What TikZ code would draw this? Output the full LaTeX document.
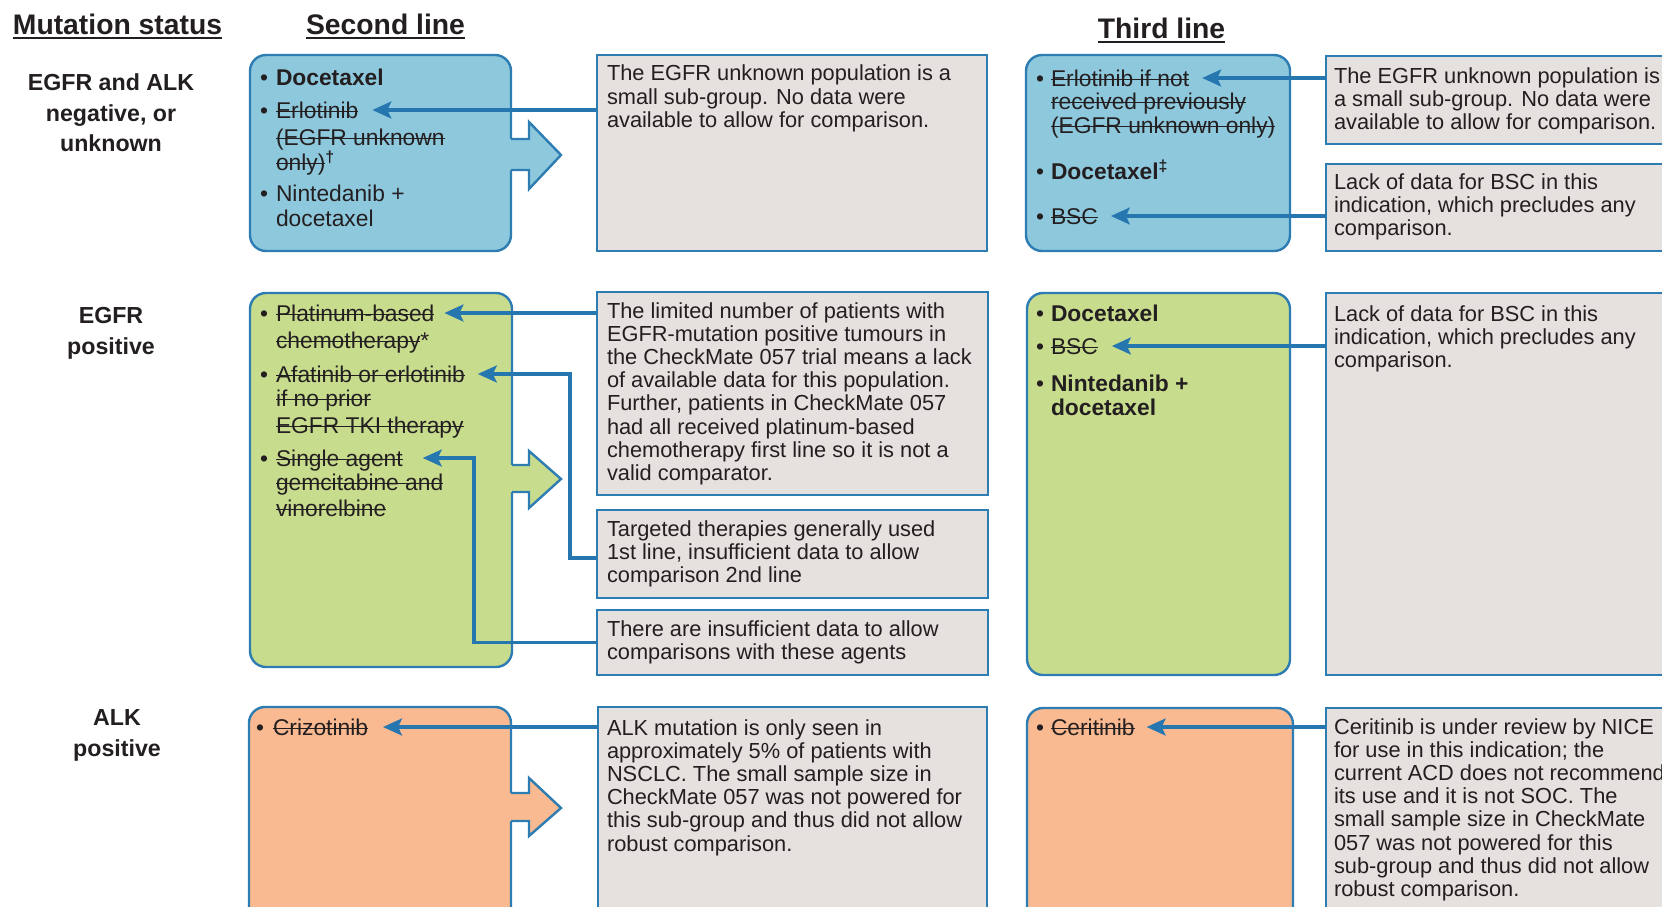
\documentclass[tikz,border=0pt]{standalone}
\usepackage{fontspec}
\setmainfont{Liberation Sans}
\usetikzlibrary{arrows.meta}

\definecolor{txt}{RGB}{35,31,32}
\definecolor{bluefill}{RGB}{142,200,221}
\definecolor{greenfill}{RGB}{200,220,142}
\definecolor{orangefill}{RGB}{249,185,145}
\definecolor{greyfill}{RGB}{228,225,222}
\definecolor{edge}{RGB}{45,125,178}
\definecolor{connc}{RGB}{38,118,176}

\newsavebox\strikebox
\newcommand\strk[1]{\sbox\strikebox{#1}\rlap{\usebox\strikebox}\rule[\dimexpr0.55ex-0.8pt\relax]{\wd\strikebox}{1.6pt}}

\newcommand\glines[4]{%
  \foreach \t [count=\i] in {#4} {\node[gtext] (#1-\i) at (#2,{#3+23.2*(\i-1)}) {\t};}}

\begin{document}
\begin{tikzpicture}[x=1pt,y=-1pt,
  every node/.style={inner sep=0pt, outer sep=0pt, text=txt},
  cbox/.style={draw=edge, line width=2.4pt, rounded corners=16pt, anchor=north west},
  gbox/.style={draw=edge, line width=2.4pt, fill=greyfill, anchor=north west},
  gtext/.style={anchor=base west, font=\fontsize{21.8}{23}\selectfont},
  itext/.style={anchor=base west, font=\fontsize{22.8}{25}\selectfont},
  btext/.style={anchor=base west, font=\fontsize{22.8}{25}\selectfont\bfseries},
  mlabel/.style={anchor=base, font=\fontsize{23.2}{30}\selectfont\bfseries},
  head/.style={anchor=base, font=\fontsize{28.3}{34}\selectfont\bfseries},
  uline/.style={draw=txt, line width=2.2pt},
  conn/.style={draw=connc, line width=3.2pt, -{Stealth[length=19pt,width=17pt,inset=4pt]}},
  barrow/.style={draw=edge, line width=2.4pt, line join=miter},
]
\useasboundingbox (0,0) rectangle (1662,907);
\fill[white] (0,0) rectangle (1662,907);
\clip (0,0) rectangle (1662,907);

% ---------- headings ----------
\node[head] (h1) at (117.5,35) {Mutation status};
\node[head] (h2) at (385.5,35) {Second line};
\node[head] (h3) at (1161.5,39) {Third line};
\draw[uline] ([yshift=-3pt]h1.south west) -- ([yshift=-3pt]h1.south east);
\draw[uline] ([yshift=-3pt]h2.south west) -- ([yshift=-3pt]h2.south east);
\draw[uline] ([yshift=-3pt]h3.south west) -- ([yshift=-3pt]h3.south east);

% ---------- mutation labels ----------
\node[mlabel] (m1a) at (111,90) {EGFR and ALK};
\node[mlabel] (m1b) at (111,121) {negative, or};
\node[mlabel] (m1c) at (111,151) {unknown};
\node[mlabel] (m2a) at (111,323) {EGFR};
\node[mlabel] (m2b) at (111,354) {positive};
\node[mlabel] (m3a) at (117,725) {ALK};
\node[mlabel] (m3b) at (117,756) {positive};

% ---------- boxes ----------
\node[cbox, fill=bluefill, minimum width=261pt, minimum height=196pt] (b2a) at (250,55) {};
\node[gbox, minimum width=390pt, minimum height=196pt] (g2a) at (597,55) {};
\node[cbox, fill=bluefill, minimum width=264pt, minimum height=196pt] (b3a) at (1026,55) {};
\node[gbox, minimum width=374pt, minimum height=88pt] (g3a1) at (1326,56) {};
\node[gbox, minimum width=374pt, minimum height=87pt] (g3a2) at (1326,164) {};

\node[cbox, fill=greenfill, minimum width=262pt, minimum height=374pt] (b2b) at (250,293) {};
\node[gbox, minimum width=391pt, minimum height=203pt] (g2b1) at (597,292) {};
\node[gbox, minimum width=391pt, minimum height=88pt] (g2b2) at (597,510) {};
\node[gbox, minimum width=391pt, minimum height=65pt] (g2b3) at (597,610) {};
\node[cbox, fill=greenfill, minimum width=263pt, minimum height=382pt] (b3b) at (1027,293) {};
\node[gbox, minimum width=374pt, minimum height=382pt] (g3b) at (1326,293) {};

\node[cbox, fill=orangefill, minimum width=262pt, minimum height=240pt] (b2c) at (249,707) {};
\node[gbox, minimum width=389pt, minimum height=240pt] (g2c) at (598,707) {};
\node[cbox, fill=orangefill, minimum width=266pt, minimum height=240pt] (b3c) at (1027,708) {};
\node[gbox, minimum width=374pt, minimum height=240pt] (g3c) at (1326,708) {};

% ---------- block arrows ----------
\fill[bluefill] (508,139) -- (529,139) -- (529,122) -- (561,155) -- (529,189) -- (529,170) -- (508,170) -- cycle;
\draw[barrow] (511,139) -- (529,139) -- (529,122) -- (561,155) -- (529,189) -- (529,170) -- (511,170);
\fill[greenfill] (509,465) -- (529,465) -- (529,451) -- (561,479) -- (529,508) -- (529,492) -- (509,492) -- cycle;
\draw[barrow] (512,465) -- (529,465) -- (529,451) -- (561,479) -- (529,508) -- (529,492) -- (512,492);
\fill[orangefill] (508,793) -- (529,793) -- (529,778) -- (561,808) -- (529,836) -- (529,821) -- (508,821) -- cycle;
\draw[barrow] (511,793) -- (529,793) -- (529,778) -- (561,808) -- (529,836) -- (529,821) -- (511,821);

% ---------- second line, blue ----------
\node[itext] (bl1) at (260,85) {•};
\node[btext] (doc2a) at (276,85) {Docetaxel};
\node[itext] (bl2) at (260,118) {•};
\node[itext] (erl2a) at (276,118) {\strk{Erlotinib}};
\node[itext] (erl2b) at (276,145) {\strk{(EGFR unknown}};
\node[itext] (erl2c) at (276,170) {\strk{only)}\textsuperscript{\bfseries †}};
\node[itext] (bl3) at (260,201) {•};
\node[itext] (nin2a) at (276,201) {Nintedanib +};
\node[itext] (nin2b) at (276,226) {docetaxel};

% ---------- third line, blue ----------
\node[itext] (bl4) at (1036,86) {•};
\node[itext] (erl3a) at (1051,86) {\strk{Erlotinib if not}};
\node[itext] (erl3b) at (1051,109) {\strk{received previously}};
\node[itext] (erl3c) at (1051,133) {\strk{(EGFR unknown only)}};
\node[itext] (bl5) at (1036,179) {•};
\node[btext] (doc3a) at (1051,179) {Docetaxel\textsuperscript{‡}};
\node[itext] (bl6) at (1036,224) {•};
\node[itext] (bsc3a) at (1051,224) {\strk{BSC}};

% ---------- second line, green ----------
\node[itext] (bl7) at (260,321) {•};
\node[itext] (pla1) at (276,321) {\strk{Platinum-based}};
\node[itext] (pla2) at (276,348) {\strk{chemotherapy}*};
\node[itext] (bl8) at (260,382) {•};
\node[itext] (afa1) at (276,382) {\strk{Afatinib or erlotinib}};
\node[itext] (afa2) at (276,406) {\strk{if no prior}};
\node[itext] (afa3) at (276,433) {\strk{EGFR TKI therapy}};
\node[itext] (bl9) at (260,466) {•};
\node[itext] (sin1) at (276,466) {\strk{Single agent}};
\node[itext] (sin2) at (276,490) {\strk{gemcitabine and}};
\node[itext] (sin3) at (276,516) {\strk{vinorelbine}};

% ---------- third line, green ----------
\node[itext] (bl10) at (1036,321) {•};
\node[btext] (doc3b) at (1051,321) {Docetaxel};
\node[itext] (bl11) at (1036,354) {•};
\node[itext] (bsc3b) at (1051,354) {\strk{BSC}};
\node[itext] (bl12) at (1036,391) {•};
\node[btext] (nin3a) at (1051,391) {Nintedanib +};
\node[btext] (nin3b) at (1051,415) {docetaxel};

% ---------- orange ----------
\node[itext] (bl13) at (256,735) {•};
\node[itext] (criz) at (273,735) {\strk{Crizotinib}};
\node[itext] (bl14) at (1036,735) {•};
\node[itext] (ceri) at (1051,735) {\strk{Ceritinib}};

% ---------- grey box texts ----------
\glines{t2a}{607}{81}{{The EGFR unknown population is a},{small sub-group. No data were},{available to allow for comparison.}}
\glines{t3a}{1334}{83}{{The EGFR unknown population is},{a small sub-group. No data were},{available to allow for comparison.}}
\glines{t3b}{1334}{189}{{Lack of data for BSC in this},{indication, which precludes any},{comparison.}}
\glines{t2b}{607}{318}{{The limited number of patients with},{EGFR-mutation positive tumours in},{the CheckMate 057 trial means a lack},{of available data for this population.},{Further, patients in CheckMate 057},{had all received platinum-based},{chemotherapy first line so it is not a},{valid comparator.}}
\glines{t2c}{607}{536}{{Targeted therapies generally used},{1st line, insufficient data to allow},{comparison 2nd line}}
\glines{t2d}{607}{636}{{There are insufficient data to allow},{comparisons with these agents}}
\glines{t3c}{1334}{321}{{Lack of data for BSC in this},{indication, which precludes any},{comparison.}}
\glines{t2e}{607}{735}{{ALK mutation is only seen in},{approximately 5\% of patients with},{NSCLC. The small sample size in},{CheckMate 057 was not powered for},{this sub-group and thus did not allow},{robust comparison.}}
\glines{t3d}{1334}{734}{{Ceritinib is under review by NICE},{for use in this indication; the},{current ACD does not recommend},{its use and it is not SOC. The},{small sample size in CheckMate},{057 was not powered for this},{sub-group and thus did not allow},{robust comparison.}}

% ---------- connectors ----------
\coordinate (tp1) at ([shift={(14pt,8pt)}]erl2a.base east);
\coordinate (tp2) at ([shift={(13pt,8pt)}]erl3a.base east);
\coordinate (tp3) at ([shift={(13pt,8pt)}]bsc3a.base east);
\coordinate (tp4) at ([shift={(10pt,8pt)}]pla1.base east);
\coordinate (tp5) at ([shift={(13pt,8pt)}]afa1.base east);
\coordinate (tp6) at ([shift={(20pt,8pt)}]sin1.base east);
\coordinate (tp7) at ([shift={(14pt,8pt)}]bsc3b.base east);
\coordinate (tp8) at ([shift={(15pt,8pt)}]criz.base east);
\coordinate (tp9) at ([shift={(12pt,8pt)}]ceri.base east);
\coordinate (k5) at (570,0);
\coordinate (k6) at (474,0);

\draw[conn] (g2a.west |- tp1) -- (tp1);
\draw[conn] (g3a1.west |- tp2) -- (tp2);
\draw[conn] (g3a2.west |- tp3) -- (tp3);
\draw[conn] (g2b1.west |- tp4) -- (tp4);
\draw[conn] ([yshift=-4pt]g2b2.west) -| (k5 |- tp5) -- (tp5);
\draw[conn] (g2b3.west) -| (k6 |- tp6) -- (tp6);
\draw[conn] (g3b.west |- tp7) -- (tp7);
\draw[conn] (g2c.west |- tp8) -- (tp8);
\draw[conn] (g3c.west |- tp9) -- (tp9);
\end{tikzpicture}
\end{document}
